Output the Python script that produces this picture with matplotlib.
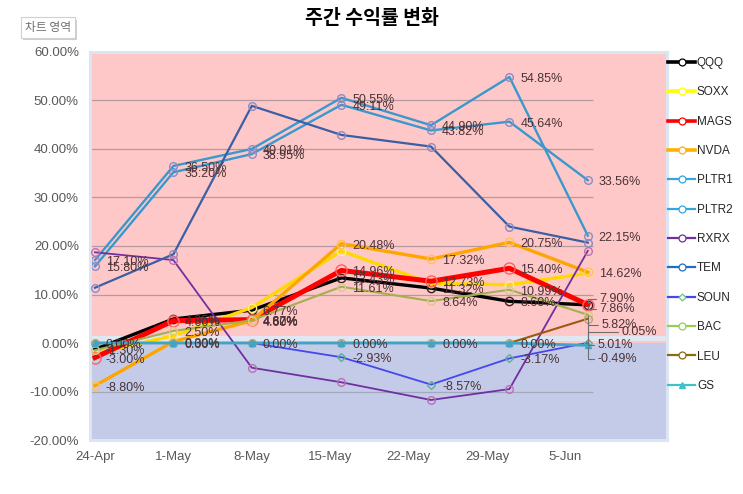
import matplotlib
matplotlib.use('Agg')
import matplotlib.pyplot as plt
import matplotlib.dates as mdates
import matplotlib.patheffects as pe
import pandas as pd
import numpy as np
from matplotlib.lines import Line2D

# ---------------- data ----------------
dates = pd.to_datetime(['2025-04-24', '2025-05-01', '2025-05-08', '2025-05-16',
                        '2025-05-24', '2025-05-31', '2025-06-07'])
tick_dates = pd.to_datetime(['2025-04-24', '2025-05-01', '2025-05-08', '2025-05-15',
                             '2025-05-22', '2025-05-29', '2025-06-05'])
tick_labels = ['24-Apr', '1-May', '8-May', '15-May', '22-May', '29-May', '5-Jun']

QQQ = [-1.30, 4.95, 6.77, 13.43, 11.32, 8.60, 7.86]
SOXX = [-2.20, 1.50, 7.30, 19.00, 12.30, 12.00, 14.40]
MAGS = [-3.00, 4.60, 4.82, 14.96, 12.73, 15.40, 7.90]
NVDA = [-8.80, 0.30, 4.60, 20.48, 17.32, 20.75, 14.62]
PLTR1 = [15.80, 35.20, 38.95, 49.11, 43.82, 45.64, 33.56]
PLTR2 = [17.10, 36.50, 40.01, 50.55, 44.90, 54.85, 22.15]
RXRX = [18.70, 17.10, -5.10, -8.10, -11.75, -9.50, 19.00]
TEM = [11.40, 18.30, 48.90, 42.90, 40.50, 24.00, 20.70]
SOUN = [0.00, 0.00, 0.00, -2.93, -8.57, -3.17, 0.05]
BAC = [-1.50, 2.50, 4.67, 11.61, 8.64, 10.99, 5.82]
LEU = [0.00, 0.00, 0.00, 0.00, 0.00, 0.00, 5.01]
GS = [0.00, 0.00, 0.00, 0.00, 0.00, 0.00, -0.49]

series_names = ['QQQ', 'SOXX', 'MAGS', 'NVDA', 'PLTR1', 'PLTR2', 'RXRX', 'TEM',
                'SOUN', 'BAC', 'LEU', 'GS']
series_values = [QQQ, SOXX, MAGS, NVDA, PLTR1, PLTR2, RXRX, TEM, SOUN, BAC, LEU, GS]

# ---------------- styles ----------------
styles = {
    'QQQ':   dict(color='#000000', lw=2.4, marker='o', ms=6, mec='#3a2020', mew=1.0),
    'SOXX':  dict(color='#FFD800', lw=2.4, marker='o', ms=6, mec='#FFF080', mew=1.0),
    'MAGS':  dict(color='#FF0000', lw=3.6, marker='o', ms=8, mec='#FF6060', mew=1.0),
    'NVDA':  dict(color='#FFA500', lw=2.4, marker='o', ms=6, mec='#FFC060', mew=1.0),
    'PLTR1': dict(color='#3A98CC', lw=1.7, marker='o', ms=5.5, mec='#8A8CC4', mew=1.0),
    'PLTR2': dict(color='#3A98CC', lw=1.7, marker='o', ms=5.5, mec='#8A8CC4', mew=1.0),
    'RXRX':  dict(color='#7030A0', lw=1.3, marker='o', ms=5.5, mec='#C070B0', mew=1.0),
    'TEM':   dict(color='#3A5FA4', lw=1.6, marker='o', ms=5.5, mec='#8A8CC4', mew=1.0),
    'SOUN':  dict(color='#4646EE', lw=1.3, marker='D', ms=4, mec='#60B090', mew=1.0),
    'BAC':   dict(color='#A4B050', lw=1.5, marker='o', ms=5.5, mec='#D8C890', mew=1.0),
    'LEU':   dict(color='#9B5A10', lw=1.5, marker='o', ms=5.5, mec='#C0A070', mew=1.0),
    'GS':    dict(color='#40A4C4', lw=2.0, marker='^', ms=5, mec='#40A4C4', mew=1.0),
}
legend_colors = {
    'QQQ': '#000000', 'SOXX': '#FFFF00', 'MAGS': '#FF0000', 'NVDA': '#FFB000',
    'PLTR1': '#33A6E0', 'PLTR2': '#33A6E0', 'RXRX': '#7030A0', 'TEM': '#1F6FC0',
    'SOUN': '#4646EE', 'BAC': '#92D050', 'LEU': '#8B6A10', 'GS': '#40C0C8',
}

# which points carry a data label (index list per series)
label_idx = {
    'QQQ': [0, 1, 2, 3, 4, 5, 6], 'MAGS': [0, 1, 2, 3, 4, 5, 6], 'NVDA': [0, 1, 2, 3, 4, 5, 6],
    'PLTR1': [0, 1, 2, 3, 4, 5, 6], 'PLTR2': [0, 1, 2, 3, 4, 5, 6],
    'SOUN': [3, 4, 5, 6], 'BAC': [1, 2, 3, 4, 5, 6], 'LEU': [6], 'GS': [0, 1, 2, 3, 4, 5, 6],
}
# special label offsets (pixels: dx right, dy down) with leader lines
special = {
    ('MAGS', 6): (12, -6), ('QQQ', 6): (12, 4), ('BAC', 6): (14, 10),
    ('SOUN', 6): (34, -11), ('LEU', 6): (10, 26), ('GS', 6): (10, 14),
}

plt.rcParams['font.family'] = ['Liberation Sans', 'DejaVu Sans']

W, H = 743, 494
DPI = 100
fig = plt.figure(figsize=(W / DPI, H / DPI), dpi=DPI)
fig.patch.set_facecolor('white')

ax_l, ax_r, ax_t, ax_b = 90, 667, 52, 440
ax = fig.add_axes([ax_l / W, 1 - ax_b / H, (ax_r - ax_l) / W, (ax_b - ax_t) / H])

px_per_day = 11.2
x0 = mdates.date2num(dates[0])
ax.set_xlim(x0 - 5 / px_per_day, x0 + (ax_r - 95) / px_per_day)
ax.set_ylim(-20, 60)

# background areas
ax.axhspan(0, 60, color='#FFC8C8', zorder=0, lw=0)
ax.axhspan(-20, 0, color='#C3CBE9', zorder=0, lw=0)
ax.axhspan(0.35, 1.5, color='#E0E6F2', zorder=0.5, lw=0)

grid_end = x0 + (593 - 95) / px_per_day
for yv in range(-20, 61, 10):
    if yv == 0:
        continue
    ax.hlines(yv, ax.get_xlim()[0], grid_end, colors='#B49A9E' if yv > 0 else '#A4A8BC',
              lw=0.9, zorder=0.8)

xnum = mdates.date2num(dates)
for i, (name, vals) in enumerate(zip(series_names, series_values)):
    st = styles[name]
    mfc = st['color'] if name == 'GS' else 'none'
    ax.plot(xnum, vals, color=st['color'], lw=st['lw'], marker=st['marker'],
            ms=st['ms'], mec=st['mec'], mew=st['mew'], mfc=mfc, zorder=2 + i * 0.1,
            solid_joinstyle='round')

# data labels
label_color = '#4A3236'
px2pt = 72 / DPI
for name, vals in zip(series_names, series_values):
    for j in label_idx.get(name, []):
        v = vals[j]
        txt = f"{v:.2f}%"
        if (name, j) in special:
            dx, dy = special[(name, j)]
            ax.annotate(txt, xy=(xnum[j], v), xytext=(dx * px2pt, -dy * px2pt),
                        textcoords='offset points', ha='left', va='center',
                        fontsize=9, color=label_color, zorder=10,
                        arrowprops=dict(arrowstyle='-', color='#6E6E6E', lw=0.8,
                                        shrinkA=1, shrinkB=1,
                                        connectionstyle='angle,angleA=0,angleB=90,rad=0'))
        else:
            ax.annotate(txt, xy=(xnum[j], v), xytext=(11 * px2pt, -2 * px2pt),
                        textcoords='offset points', ha='left', va='center',
                        fontsize=9, color=label_color, zorder=10)

# axes styling
ax.set_yticks(range(-20, 61, 10))
ax.set_yticklabels([f"{t:.2f}%" for t in range(-20, 61, 10)])
ax.set_xticks(mdates.date2num(tick_dates))
ax.set_xticklabels(tick_labels)
ax.tick_params(axis='both', length=0, labelsize=9.5, labelcolor='#595959')
ax.tick_params(axis='y', pad=8)
ax.tick_params(axis='x', pad=8)
for sp in ax.spines.values():
    sp.set_color('#DCE6F2')
    sp.set_linewidth(2.2)

# title
fig.text(372 / W, 1 - 19 / H, '주간 수익률 변화', ha='center', va='center',
         fontsize=14, fontweight='bold', color='#000000',
         family=['Noto Sans CJK KR', 'DejaVu Sans'])
# chart-area tag
tag = fig.text(48 / W, 1 - 27.5 / H, '차트 영역', ha='center', va='center', fontsize=8.5,
               color='#707070', family=['Noto Sans CJK KR', 'DejaVu Sans'],
               bbox=dict(boxstyle='square,pad=0.3', fc='white', ec='#D0D0D0', lw=0.8,
                         path_effects=[pe.withSimplePatchShadow(offset=(1.5, -1.5),
                                                                shadow_rgbFace='#B0B0B0',
                                                                alpha=0.6)]))

# legend
handles = []
for name in series_names:
    st = styles[name]
    mk = st['marker']
    mfc = legend_colors[name] if name == 'GS' else 'white'
    mec = '#70C080' if name == 'SOUN' else ('#000000' if name == 'QQQ' else legend_colors[name])
    handles.append(Line2D([0], [0], color=legend_colors[name],
                          lw=1.6 if name not in ('QQQ', 'MAGS', 'NVDA', 'SOXX') else 2.6,
                          marker=mk, ms=5 if mk != 'D' else 3.5, mfc=mfc, mec=mec, mew=0.9))
leg = fig.legend(handles, series_names, loc='upper left',
                 bbox_to_anchor=(668 / W, 1 - 57 / H), frameon=False,
                 fontsize=8.5, handlelength=2.3, handletextpad=0.15,
                 labelspacing=1.47, borderpad=0, borderaxespad=0)
for t in leg.get_texts():
    t.set_color('#262626')

fig.savefig('out.png', dpi=DPI)
